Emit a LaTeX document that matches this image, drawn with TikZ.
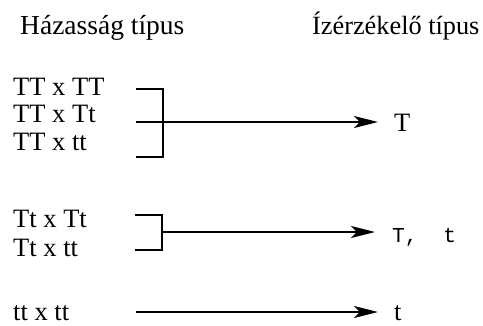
\documentclass[tikz,border=0pt]{standalone}
\usepackage{fontspec}
\setmainfont{Liberation Serif}
\setmonofont{Liberation Mono}
\usetikzlibrary{arrows.meta}
\begin{document}
\begin{tikzpicture}[x=1pt,y=-1pt,
  head/.style={inner sep=0pt,anchor=base west,font=\fontsize{27.5}{27.5}\selectfont},
  cross/.style={inner sep=0pt,anchor=base west,font=\fontsize{26.5}{26.5}\selectfont},
  result/.style={inner sep=0pt,anchor=base west,font=\fontsize{26.5}{26.5}\selectfont},
  bracket/.style={line width=2.4pt},
  conn/.style={line width=2.4pt,-{Stealth[length=24pt,width=12pt,inset=6pt]}}]
\useasboundingbox (0,0) rectangle (483,325);
% column headings
\node[head] (h1) at (20,34) {Házasság típus};
\node[head,font=\fontsize{26.3}{26.3}\selectfont] (h2) at (312,34) {Ízérzékelő típus};
% crosses
\node[cross] (c1) at (13,95) {TT x TT};
\node[cross] (c2) at (13,122) {TT x Tt};
\node[cross] (c3) at (13,150) {TT x tt};
\node[cross] (c4) at (13,227) {Tt x Tt};
\node[cross] (c5) at (13,256) {Tt x tt};
\node[cross] (c6) at (13,320) {tt x tt};
% offspring
\node[result] (r1) at (394,131) {T};
\node[result,font=\ttfamily\fontsize{21.3}{21.3}\selectfont] (r2) at (392,242) {T,~~t};
\node[result] (r3) at (394,320) {t};
% first bracket
\coordinate (b1) at (163,122);
\draw[bracket] (136,89) -| (163,157) -- (136,157);
\draw[bracket] (136,122) -- (b1);
\draw[conn] (b1) -- (378,122);
% second bracket
\coordinate (b2) at (162,232);
\draw[bracket] (135,215) -| (162,250) -- (135,250);
\draw[conn] (b2) -- (375,232);
% single cross
\coordinate (b3) at (136,312);
\draw[conn] (b3) -- (378,312);
\end{tikzpicture}
\end{document}
